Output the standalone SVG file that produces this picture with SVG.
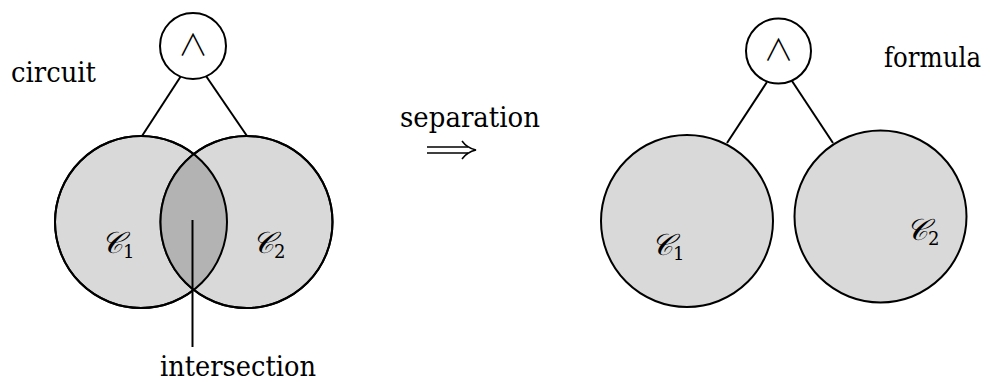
<svg xmlns="http://www.w3.org/2000/svg" width="990" height="382" viewBox="0 0 990 382">
<style>
.txt{font-family:'DejaVu Serif',serif;font-size:27px;fill:#000}
.cl{font-family:'DejaVu Serif',serif;font-size:30px;font-style:italic;fill:#000}
.sub{font-family:'DejaVu Serif',serif;font-size:18px;font-style:normal}
.and{font-family:'DejaVu Sans ExtraLight','Noto Sans CJK JP','DejaVu Sans',sans-serif;font-size:30px;font-weight:300;fill:#000}
.node{fill:#d9d9d9;stroke:#000;stroke-width:2}
.gate{fill:#fff;stroke:#000;stroke-width:2}
.edge{stroke:#000;stroke-width:2;fill:none}
</style>
<rect width="990" height="382" fill="#fff"/>
<g id="connectors">
<line class="edge" x1="181" y1="76" x2="142" y2="136"/>
<line class="edge" x1="206" y1="76" x2="247" y2="136"/>
<line class="edge" x1="767" y1="82" x2="727" y2="143"/>
<line class="edge" x1="792" y1="81" x2="833" y2="143"/>
</g>
<g id="left-c1"><circle class="node" cx="141" cy="222" r="86"/></g>
<g id="left-c2"><circle class="node" cx="246.5" cy="222" r="86"/></g>
<g id="intersection-region">
<path d="M193.75 154.1 A86 86 0 0 1 193.75 289.9 A86 86 0 0 1 193.75 154.1 Z" fill="#b3b3b3" stroke="none"/>
<circle cx="141" cy="222" r="86" fill="none" stroke="#000" stroke-width="2"/>
<circle cx="246.5" cy="222" r="86" fill="none" stroke="#000" stroke-width="2"/>
<line class="edge" x1="192.5" y1="220" x2="192.5" y2="347"/>
</g>
<g id="left-and"><circle class="gate" cx="193" cy="46" r="33"/><text class="and" x="193" y="55" text-anchor="middle">∧</text></g>
<text class="cl" x="101" y="253">𝒞<tspan class="sub" dy="5">1</tspan></text>
<text class="cl" x="252" y="253">𝒞<tspan class="sub" dy="5">2</tspan></text>
<text class="txt" x="11" y="82" textLength="85" lengthAdjust="spacingAndGlyphs">circuit</text>
<text class="txt" x="160" y="376" textLength="156" lengthAdjust="spacingAndGlyphs">intersection</text>
<g id="separation">
<text class="txt" x="400" y="127" textLength="140" lengthAdjust="spacingAndGlyphs">separation</text>
<path d="M427 147 H468 M427 153 H468" stroke="#000" stroke-width="1.5" fill="none"/>
<path d="M462 141 Q467 148 476 150 Q467 152 462 159" stroke="#000" stroke-width="1.5" fill="none"/>
</g>
<g id="right-and"><circle class="gate" cx="778.5" cy="51" r="32.5"/><text class="and" x="778.5" y="60" text-anchor="middle">∧</text></g>
<g id="right-c1"><circle class="node" cx="687" cy="221" r="86"/><text class="cl" x="651" y="255">𝒞<tspan class="sub" dy="5">1</tspan></text></g>
<g id="right-c2"><circle class="node" cx="880.5" cy="216.5" r="86"/><text class="cl" x="906" y="240">𝒞<tspan class="sub" dy="5">2</tspan></text></g>
<text class="txt" x="884" y="67" textLength="97" lengthAdjust="spacingAndGlyphs">formula</text>
</svg>
